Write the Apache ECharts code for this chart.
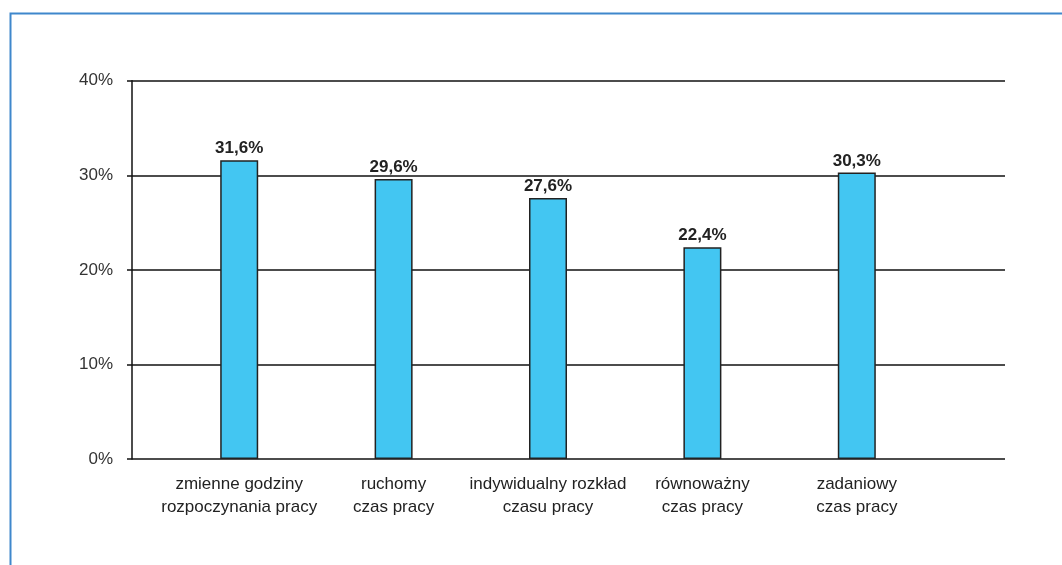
<!DOCTYPE html>
<html>
<head>
<meta charset="utf-8">
<script src="https://cdn.jsdelivr.net/npm/echarts@6/dist/echarts.min.js"></script>
<style>
  html, body { margin: 0; padding: 0; background: #fff; }
  #chart { width: 1062px; height: 565px; }
</style>
</head>
<body>
<div id="chart"></div>
<script>
// Category names (two-line labels) and shares in percent
const categories = [
  'zmienne godziny\nrozpoczynania pracy',
  'ruchomy\nczas pracy',
  'indywidualny rozkład\nczasu pracy',
  'równoważny\nczas pracy',
  'zadaniowy\nczas pracy'
];
const shares = [31.6, 29.6, 27.6, 22.4, 30.3];
const yTicks = [0, 10, 20, 30, 40];

const FONT = '"Liberation Sans", Arial, sans-serif';
const chart = echarts.init(document.getElementById('chart'), null, { renderer: 'canvas' });

const plotTop = 80.7;
const plotBottom = 106;

chart.setOption({
  animation: false,
  backgroundColor: '#ffffff',
  graphic: [{
    type: 'rect',
    shape: { x: 10.5, y: 13.5, width: 1100, height: 600 },
    style: { fill: 'none', stroke: '#3f87cc', lineWidth: 2 },
    silent: true
  }],
  grid: [
    // frame: y axis, horizontal rules
    { left: 132, right: 57, top: plotTop, bottom: plotBottom },
    // bars
    { left: 162, width: 772, top: plotTop, bottom: plotBottom }
  ],
  xAxis: [
    {
      gridIndex: 0, type: 'category', data: categories,
      axisLine: { show: false }, axisTick: { show: false }, axisLabel: { show: false }
    },
    {
      gridIndex: 1, type: 'category', data: categories,
      axisLine: { show: false }, axisTick: { show: false },
      axisLabel: {
        interval: 0, margin: 14, color: '#222', fontFamily: FONT,
        fontSize: 17, lineHeight: 23, align: 'center'
      }
    }
  ],
  yAxis: [
    {
      gridIndex: 0, type: 'value',
      min: yTicks[0], max: yTicks[yTicks.length - 1], interval: 10,
      axisLine: { show: true, lineStyle: { color: '#111', width: 1.5 } },
      axisTick: { show: true, length: 5, lineStyle: { color: '#111', width: 1.5 } },
      splitLine: { show: true, lineStyle: { color: '#111', width: 1.5 } },
      axisLabel: {
        margin: 19, color: '#333', fontFamily: FONT, fontSize: 17,
        formatter: v => v + '%'
      }
    },
    {
      gridIndex: 1, type: 'value',
      min: yTicks[0], max: yTicks[yTicks.length - 1], interval: 10,
      show: false, splitLine: { show: false }
    }
  ],
  series: [{
    type: 'bar',
    xAxisIndex: 1, yAxisIndex: 1,
    data: shares,
    barWidth: 38,
    itemStyle: { color: '#43c6f2', borderColor: '#222', borderWidth: 1.5 },
    label: {
      show: true, position: 'top', distance: 3,
      color: '#222', fontFamily: FONT, fontSize: 17, fontWeight: 'bold',
      formatter: p => p.value.toFixed(1).replace('.', ',') + '%'
    }
  }]
});
</script>
</body>
</html>
